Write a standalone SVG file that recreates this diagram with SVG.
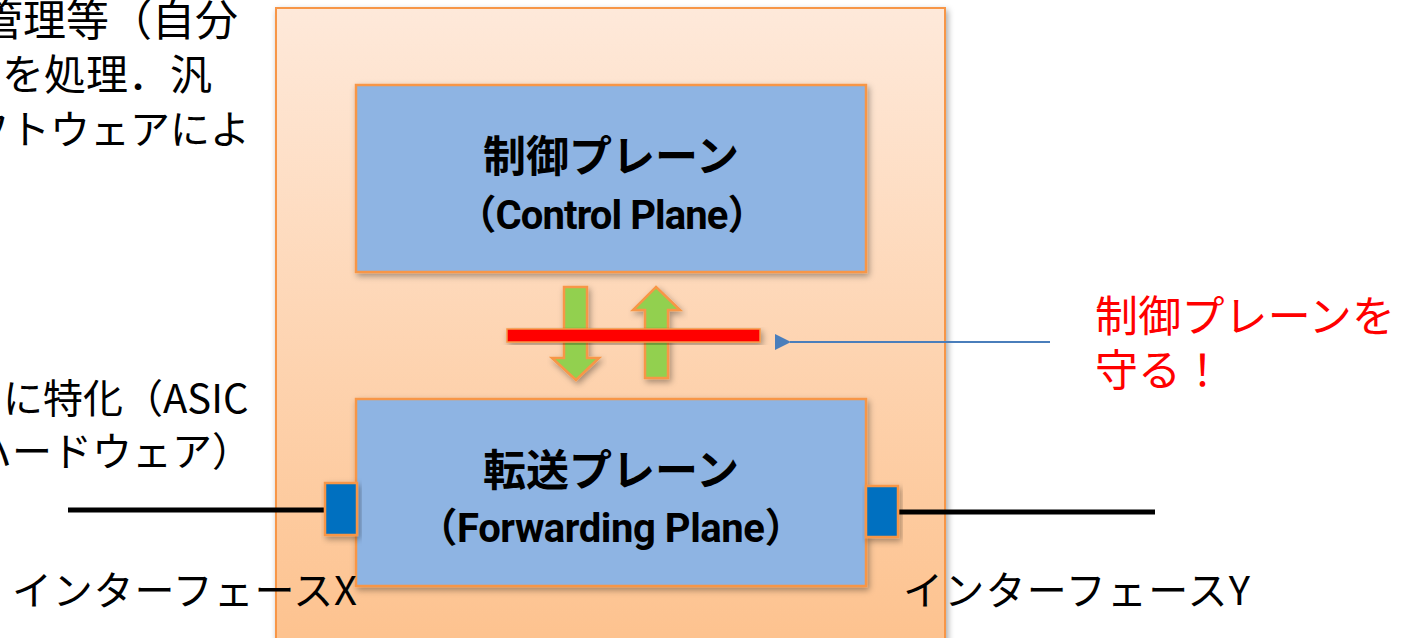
<svg xmlns="http://www.w3.org/2000/svg" width="1402" height="638" viewBox="0 0 1402 638">
  <defs>
    <linearGradient id="bodyFill" x1="0" y1="0" x2="0" y2="1">
      <stop offset="0" stop-color="#fee9da"/>
      <stop offset="1" stop-color="#fdc28e"/>
    </linearGradient>
    <filter id="shadow" x="-10%" y="-10%" width="125%" height="130%">
      <feDropShadow dx="2" dy="3" stdDeviation="3" flood-color="#000" flood-opacity="0.35"/>
    </filter>
    <marker id="arrowBlue" markerWidth="16" markerHeight="16" refX="1" refY="8" orient="auto" markerUnits="userSpaceOnUse">
      <path d="M0,8 L16,0 L16,16 Z" fill="#4a7ebb"/>
    </marker>
    <style>
      .body { fill: url(#bodyFill); stroke: #f79646; stroke-width: 2; }
      .plane { fill: #8eb4e3; stroke: #f79646; stroke-width: 2.5; }
      .port { fill: #0070c0; stroke: #f79646; stroke-width: 2.5; }
      .flow { fill: #92d050; stroke: #f79646; stroke-width: 2.5; }
      .wire { stroke: #000; stroke-width: 5; }
      .title { font-family: "Noto Sans CJK JP", "Noto Sans", sans-serif; font-weight: bold; fill: #000; text-anchor: middle; font-size: 43px; }
      .latin { font-family: Roboto, "Noto Sans CJK JP", sans-serif; font-weight: bold; fill: #000; text-anchor: middle; font-size: 40px; }
      .label { font-family: "Noto Sans CJK JP", "Noto Sans", sans-serif; fill: #000; font-size: 40px; }
      .alert { font-family: "Noto Sans CJK JP", "Noto Sans", sans-serif; fill: #ff0000; font-size: 43px; }
    </style>
  </defs>

  <rect width="1402" height="638" fill="#fff"/>

  <!-- router chassis -->
  <g id="router">
    <rect class="body" x="276" y="8" width="669" height="640" filter="url(#shadow)"/>
  </g>

  <!-- left-side explanatory text (runs past the page edge) -->
  <g id="note-control">
    <text class="label" x="-20" y="36" style="font-size:43px">管理等（自分</text>
    <text class="label" x="2" y="90" style="font-size:42px">を処理．汎</text>
    <text class="label" x="-30" y="144">フトウェアによ</text>
  </g>
  <g id="note-forwarding">
    <text class="label" x="3" y="413">に特化（ASIC</text>
    <text class="label" x="-28" y="466">ハードウェア）</text>
  </g>

  <!-- connectors -->
  <g id="connectors">
    <line class="wire" x1="68" y1="510" x2="326" y2="510"/>
    <line class="wire" x1="897" y1="512" x2="1155" y2="512"/>
    <line x1="1050" y1="342" x2="790" y2="342" stroke="#4a7ebb" stroke-width="2" marker-end="url(#arrowBlue)"/>
  </g>

  <g id="control-plane">
    <rect class="plane" x="356" y="85" width="510" height="187" filter="url(#shadow)"/>
    <text class="title" x="611" y="172">制御プレーン</text>
    <text class="latin" x="612" y="229" textLength="311">（Control Plane）</text>
  </g>

  <g id="forwarding-plane">
    <rect class="plane" x="356" y="399" width="510" height="187" filter="url(#shadow)"/>
    <text class="title" x="611" y="486">転送プレーン</text>
    <text class="latin" x="611" y="542" textLength="387">（Forwarding Plane）</text>
  </g>

  <g id="port-x">
    <rect class="port" x="325" y="483" width="32" height="52" filter="url(#shadow)"/>
  </g>
  <g id="port-y">
    <rect class="port" x="866" y="486" width="32" height="51" filter="url(#shadow)"/>
  </g>

  <!-- traffic between planes -->
  <g id="flow-down">
    <path class="flow" d="M564,287 H587 V358 H599 L576,380 L552,358 H564 Z" filter="url(#shadow)"/>
  </g>
  <g id="flow-up">
    <path class="flow" d="M656,287 L680,310 H668 V378 H645 V310 H633 Z" filter="url(#shadow)"/>
  </g>

  <g id="barrier">
    <rect x="507" y="329" width="253" height="13" fill="#ff0000" stroke="#f79646" stroke-width="1.5" filter="url(#shadow)"/>
  </g>

  <g id="callout">
    <text class="alert" x="1095" y="332" textLength="300">制御プレーンを</text>
    <text class="alert" x="1095" y="386">守る！</text>
  </g>

  <g id="label-x">
    <text class="label" x="12" y="605" textLength="345">インターフェースX</text>
  </g>
  <g id="label-y">
    <text class="label" x="903" y="605" textLength="347">インターフェースY</text>
  </g>
</svg>
